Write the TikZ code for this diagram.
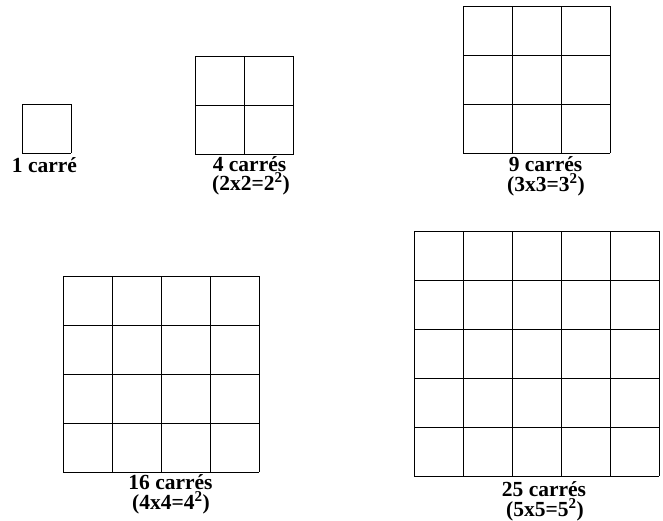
\documentclass[tikz,border=0pt]{standalone}
\usepackage{fontspec}
\setmainfont{Liberation Serif}
\begin{document}
\begin{tikzpicture}[x=1pt,y=-1pt,
  gridline/.style={line width=1pt,black},
  lbl/.style={anchor=base,inner sep=0pt,font=\fontsize{21.5}{21.5}\selectfont\bfseries}]
\useasboundingbox (0,0) rectangle (663,520);
% grids: x0, y0, n, cell
\foreach \xo/\yo/\n/\c in {22/104/1/49, 195/56/2/49.25, 463/6/3/49, 63/276/4/49, 414/231/5/49}{
  \foreach \i in {0,...,\n}{
    \draw[gridline] (\xo+\i*\c,\yo) -- (\xo+\i*\c,\yo+\n*\c);
    \draw[gridline] (\xo,\yo+\i*\c) -- (\xo+\n*\c,\yo+\i*\c);
  }
}
\node[lbl] (t1) at (44.5,172) {1 carré};
\node[lbl] (t2a) at (249.5,171) {4 carrés};
\node[lbl] (t2b) at (251,190) {(2x2=2\textsuperscript{2})};
\node[lbl] (t3a) at (545.5,171) {9 carrés};
\node[lbl] (t3b) at (546,191) {(3x3=3\textsuperscript{2})};
\node[lbl] (t4a) at (170.5,489) {16 carrés};
\node[lbl] (t4b) at (171,509) {(4x4=4\textsuperscript{2})};
\node[lbl] (t5a) at (544,496) {25 carrés};
\node[lbl] (t5b) at (545,516) {(5x5=5\textsuperscript{2})};
\end{tikzpicture}
\end{document}
